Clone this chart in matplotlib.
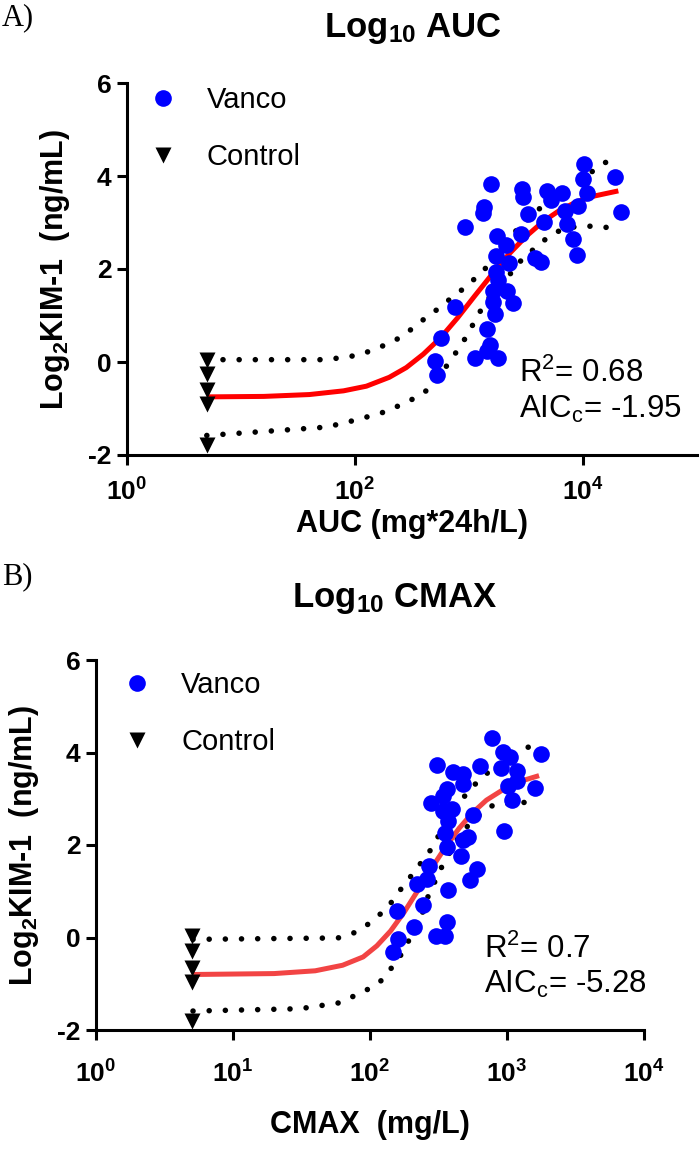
import numpy as np
import matplotlib
matplotlib.use("Agg")
import matplotlib.pyplot as plt

plt.rcParams['font.family'] = ['Liberation Sans', 'DejaVu Sans']
plt.rcParams['mathtext.fontset'] = 'custom'
plt.rcParams['mathtext.rm'] = 'Liberation Sans'
plt.rcParams['mathtext.bf'] = 'Liberation Sans:bold'
plt.rcParams['mathtext.it'] = 'Liberation Sans:italic'

# ---------------- panel A : AUC ----------------
auc_vanco_x = [10200, 19200, 1550, 2900, 2960, 4800, 5210, 6500, 10070, 10900,
               1355, 1335, 9100, 3300, 6950, 21400, 4580, 7200, 923, 1750,
               2840, 2100, 8130, 8910, 1725, 3800, 4280, 2260, 1725, 1810,
               1630, 2170, 1630, 2450, 754, 1690, 1430, 568, 1530, 1430,
               1130, 1810, 503, 524]
auc_vanco_y = [4.26, 3.98, 3.83, 3.72, 3.54, 3.68, 3.49, 3.64, 3.93, 3.64,
               3.33, 3.20, 3.35, 3.18, 3.25, 3.22, 3.01, 2.96, 2.90, 2.72,
               2.75, 2.51, 2.65, 2.31, 2.27, 2.24, 2.15, 2.12, 1.93, 1.76,
               1.53, 1.52, 1.30, 1.27, 1.18, 1.04, 0.72, 0.51, 0.36, 0.24,
               0.09, 0.09, 0.03, -0.28]
auc_ctrl_x = [5, 5, 5, 5, 5]
auc_ctrl_y = [0.05, -0.26, -0.61, -0.91, -1.79]

# fitted curve and band (log10 x, y)
auc_fit_lx = [0.70, 1.2, 1.6, 1.9, 2.1, 2.3, 2.45, 2.6, 2.75, 2.9, 3.05, 3.2,
              3.35, 3.5, 3.65, 3.8, 3.95, 4.1, 4.31]
auc_fit_y = [-0.75, -0.74, -0.70, -0.62, -0.52, -0.33, -0.12, 0.17, 0.52, 0.95,
             1.42, 1.88, 2.32, 2.70, 3.02, 3.27, 3.45, 3.57, 3.68]
auc_hi_lx = [0.70, 1.75, 2.04, 2.30, 2.42, 2.63, 2.75, 2.86, 2.97, 3.08, 3.18,
             3.35, 3.45, 3.66, 3.90, 4.14, 4.26]
auc_hi_y = [0.05, 0.05, 0.15, 0.40, 0.56, 0.97, 1.18, 1.41, 1.61, 1.86, 2.10,
            2.66, 2.92, 3.39, 3.81, 4.19, 4.40]
auc_lo_lx = [0.70, 1.75, 2.02, 2.28, 2.53, 2.63, 2.72, 2.82, 2.89, 2.97, 3.04,
             3.11, 3.19, 3.27, 3.39, 3.47, 3.59, 3.69, 3.82, 3.96, 4.11, 4.26]
auc_lo_y = [-1.58, -1.40, -1.24, -1.06, -0.77, -0.61, -0.36, -0.03, 0.22, 0.52,
            0.83, 1.14, 1.43, 1.69, 1.96, 2.23, 2.47, 2.68, 2.86, 2.92, 2.92, 2.88]

# ---------------- panel B : CMAX ----------------
cmax_vanco_x = [781, 1762, 310, 930, 1052, 635, 406, 480, 904, 1177,
                1177, 1022, 475, 367, 1610, 1082, 277, 343, 395, 343,
                568, 373, 353, 522, 480, 955, 367, 461, 271, 607,
                262, 219, 537, 373, 245, 157, 210, 161, 148, 303,
                353, 367]
cmax_vanco_y = [4.31, 3.96, 3.74, 4.02, 3.90, 3.71, 3.58, 3.53, 3.67, 3.60,
                3.38, 3.27, 3.31, 3.22, 3.24, 2.98, 2.91, 3.05, 2.77, 2.73,
                2.65, 2.51, 2.26, 2.18, 2.11, 2.31, 1.96, 1.76, 1.54, 1.49,
                1.26, 1.16, 1.24, 1.03, 0.71, 0.58, 0.23, -0.04, -0.32, 0.03,
                0.03, 0.34]
cmax_ctrl_x = [5, 5, 5, 5, 5]
cmax_ctrl_y = [0.03, -0.30, -0.67, -0.96, -1.80]

cmax_fit_lx = [0.708, 1.3, 1.6, 1.8, 1.95, 2.05, 2.15, 2.25, 2.35, 2.45, 2.55,
               2.65, 2.75, 2.85, 3.0, 3.1, 3.234]
cmax_fit_y = [-0.80, -0.78, -0.72, -0.60, -0.42, -0.18, 0.14, 0.55, 1.02, 1.50,
              1.95, 2.36, 2.70, 2.97, 3.25, 3.38, 3.50]
cmax_hi_lx = [0.708, 1.766, 1.876, 1.978, 2.066, 2.146, 2.219, 2.292, 2.358,
              2.431, 2.490, 2.686, 2.766, 2.854, 2.993, 3.146, 3.241]
cmax_hi_y = [-0.04, -0.01, 0.09, 0.27, 0.48, 0.72, 1.02, 1.30, 1.56,
             1.84, 2.15, 3.04, 3.31, 3.55, 3.84, 4.10, 4.26]
cmax_lo_lx = [0.708, 1.489, 1.781, 1.978, 2.073, 2.146, 2.219, 2.277, 2.380,
              2.423, 2.474, 2.526, 2.642, 2.715, 2.810, 2.898, 3.124, 3.234]
cmax_lo_y = [-1.59, -1.54, -1.41, -1.13, -0.96, -0.70, -0.41, -0.10, 0.51,
             0.88, 1.21, 1.54, 2.15, 2.42, 2.68, 2.86, 2.92, 2.90]

y_ticks = [-2, 0, 2, 4, 6]
auc_xticks = [1, 100, 10000]
auc_xticklabels = [r'$\mathbf{10^{0}}$', r'$\mathbf{10^{2}}$', r'$\mathbf{10^{4}}$']
cmax_xticks = [1, 10, 100, 1000, 10000]
cmax_xticklabels = [r'$\mathbf{10^{0}}$', r'$\mathbf{10^{1}}$', r'$\mathbf{10^{2}}$',
                    r'$\mathbf{10^{3}}$', r'$\mathbf{10^{4}}$']

W, H = 700, 1158
fig = plt.figure(figsize=(W / 100, H / 100), dpi=100)


def draw_panel(ax, vx, vy, cx, cy, fit_lx, fit_y, hi_lx, hi_y, lo_lx, lo_y,
               red, xmax, xticks, xticklabels, xlabel, stats, stats_x,
               leg_anchor, xpad, xlabelpad):
    dots = dict(color='black', lw=4.0, ls=(0, (0.01, 2.9)),
                dash_capstyle='round', zorder=2)
    ax.plot(np.power(10.0, hi_lx), hi_y, **dots)
    ax.plot(np.power(10.0, lo_lx), lo_y, **dots)
    ax.plot(np.power(10.0, fit_lx), fit_y, color=red, lw=3.6,
            solid_capstyle='butt', solid_joinstyle='round', zorder=3)
    ax.plot(vx, vy, 'o', ms=12, color='#0000ff', mec='none', zorder=4,
            label='Vanco', clip_on=False)
    ax.plot(cx, cy, 'v', ms=11, color='black', mec='none', zorder=4,
            label='Control', clip_on=False)

    ax.set_xscale('log')
    ax.set_xlim(1, xmax)
    ax.set_ylim(-2, 6)
    ax.set_xticks(xticks)
    ax.set_xticklabels(xticklabels)
    ax.xaxis.set_minor_locator(matplotlib.ticker.NullLocator())
    ax.set_yticks(y_ticks)
    ax.set_yticklabels([str(t) for t in y_ticks], fontweight='bold')
    ax.tick_params(axis='both', direction='out', length=7, width=2.2,
                   labelsize=19, pad=4)
    ax.tick_params(axis='x', pad=xpad)
    for s in ['top', 'right']:
        ax.spines[s].set_visible(False)
    for s in ['left', 'bottom']:
        ax.spines[s].set_linewidth(2.2)

    ax.set_xlabel(xlabel, fontsize=22, fontweight='bold', labelpad=xlabelpad)
    ax.set_ylabel(r'Log$_{\mathbf{2}}$KIM-1  (ng/mL)', fontsize=22,
                  fontweight='bold', labelpad=12)

    ax.text(stats_x, -0.25, stats[0], fontsize=22.5, va='center', ha='left')
    ax.text(stats_x, -1.01, stats[1], fontsize=22.5, va='center', ha='left')

    ax.legend(loc='upper left', bbox_to_anchor=leg_anchor, frameon=False,
              fontsize=21, handlelength=1.0, handletextpad=1.0,
              labelspacing=1.0, borderpad=0, borderaxespad=0, numpoints=1)


# panel A axes (pixel layout)
axA = fig.add_axes([127 / W, 1 - 455 / H, 570 / W, 372 / H])
draw_panel(axA, auc_vanco_x, auc_vanco_y, auc_ctrl_x, auc_ctrl_y,
           auc_fit_lx, auc_fit_y, auc_hi_lx, auc_hi_y, auc_lo_lx, auc_lo_y,
           '#ff0000', 1e5, auc_xticks, auc_xticklabels, 'AUC (mg*24h/L)',
           [r'R$^2$= 0.68', r'AIC$_\mathrm{c}$= -1.95'], 2750,
           (0.0377, 0.992), 9.5, 3)

axB = fig.add_axes([96 / W, 1 - 1030 / H, 548 / W, 370 / H])
draw_panel(axB, cmax_vanco_x, cmax_vanco_y, cmax_ctrl_x, cmax_ctrl_y,
           cmax_fit_lx, cmax_fit_y, cmax_hi_lx, cmax_hi_y, cmax_lo_lx, cmax_lo_y,
           '#f24444', 1e4, cmax_xticks, cmax_xticklabels, 'CMAX  (mg/L)',
           [r'R$^2$= 0.7', r'AIC$_\mathrm{c}$= -5.28'], 679,
           (0.0487, 0.970), 15, 16)

fig.text(2 / W, 1 - 18 / H, 'A)', fontsize=22, family='Liberation Serif',
         ha='left', va='center')
fig.text(413 / W, 1 - 28 / H, r'Log$_{\mathbf{10}}$ AUC', fontsize=25,
         fontweight='bold', ha='center', va='center')
fig.text(2 / W, 1 - 577 / H, 'B)', fontsize=22, family='Liberation Serif',
         ha='left', va='center')
fig.text(395 / W, 1 - 598 / H, r'Log$_{\mathbf{10}}$ CMAX', fontsize=25,
         fontweight='bold', ha='center', va='center')

fig.savefig('out.png', dpi=100)
